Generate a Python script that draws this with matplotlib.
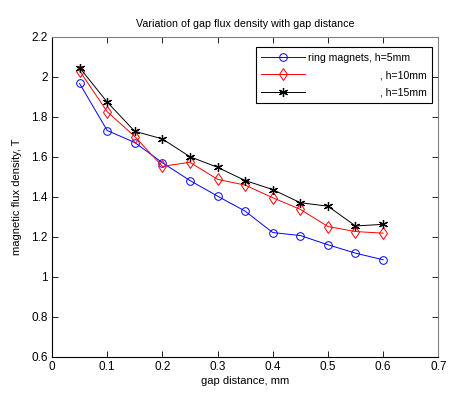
import matplotlib
matplotlib.use("Agg")
import matplotlib.pyplot as plt

plt.rcParams["font.family"] = ["Liberation Sans", "DejaVu Sans"]
plt.rcParams["font.size"] = 8

gap = [0.05, 0.1, 0.15, 0.2, 0.25, 0.3, 0.35, 0.4, 0.45, 0.5, 0.55, 0.6]
b_h5 = [1.967, 1.732, 1.672, 1.571, 1.482, 1.404, 1.329, 1.222, 1.207, 1.161, 1.119, 1.086]
b_h10 = [2.030, 1.826, 1.702, 1.553, 1.573, 1.488, 1.459, 1.396, 1.338, 1.252, 1.227, 1.219]
b_h15 = [2.046, 1.874, 1.728, 1.690, 1.601, 1.548, 1.482, 1.437, 1.371, 1.354, 1.255, 1.263]

labels = ["ring magnets, h=5mm",
          "                         , h=10mm",
          "                         , h=15mm"]

fig = plt.figure(figsize=(4.62, 4.12), dpi=100)
ax = fig.add_axes([0.1126, 0.1335, 0.836, 0.777])

ax.plot(gap, b_h5, color="blue", marker="o", mfc="none", ms=5.5, lw=0.7, mew=0.7, label=labels[0])
ax.plot(gap, b_h10, color="red", marker="d", mfc="none", ms=6.5, lw=0.7, mew=0.7, label=labels[1])
ax.plot(gap, b_h15, color="black", marker=(6, 2, 0), ms=6.5, lw=0.7, mew=0.9, label=labels[2])

ax.set_xlim(0, 0.7)
ax.set_ylim(0.6, 2.2)
ax.set_xticks([0, 0.1, 0.2, 0.3, 0.4, 0.5, 0.6, 0.7])
ax.set_xticklabels(["0", "0.1", "0.2", "0.3", "0.4", "0.5", "0.6", "0.7"])
ax.set_yticks([0.6, 0.8, 1, 1.2, 1.4, 1.6, 1.8, 2, 2.2])
ax.set_yticklabels(["0.6", "0.8", "1", "1.2", "1.4", "1.6", "1.8", "2", "2.2"])
ax.tick_params(direction="in", top=True, right=True, length=4, width=0.6, pad=3,
               labelsize=8.5)
for s in ["top", "right"]:
    ax.spines[s].set_color("#808080")
for s in ax.spines.values():
    s.set_linewidth(0.8)

ax.set_title("Variation of gap flux density with gap distance", pad=7, fontsize=7.7)
ax.set_xlabel("gap distance, mm", labelpad=2)
ax.set_ylabel("magnetic flux density, T", labelpad=7)

leg = ax.legend(loc="upper right", bbox_to_anchor=(0.985, 0.967), fancybox=False,
                edgecolor="black", framealpha=1, handlelength=4.2, borderaxespad=0,
                labelspacing=0.7, handletextpad=0.3, fontsize=7.6, borderpad=0.5)
leg.get_frame().set_linewidth(0.8)

fig.savefig("out.png", dpi=100)
